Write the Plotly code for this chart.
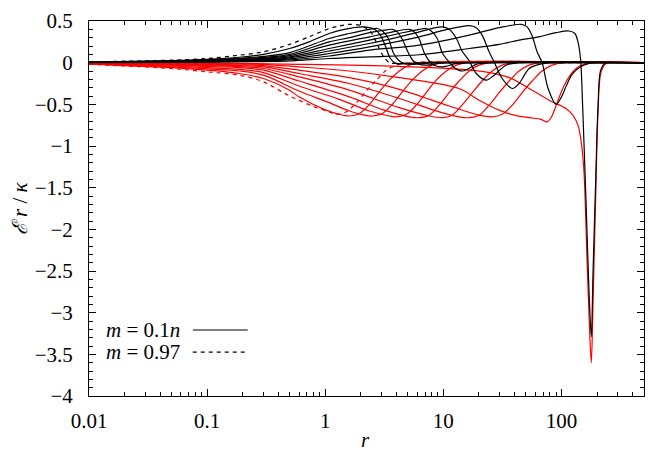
import plotly.graph_objects as go

# --- data: r and E*r/kappa for each curve ---
# black curves, m = 0.1n (n = 1..9) and m = 0.97 (dashed)
black_r_n1 = [0.01, 0.05, 0.1, 0.3, 0.5, 1.08, 2.37, 6.26, 16.6, 29.7, 43.8, 64.7, 90.2, 116, 130, 138, 145,
              151, 162, 171, 179, 185, 195, 204, 215, 237, 278, 500]
black_v_n1 = [0.001, 0.003, 0.006, 0.013, 0.02, 0.05, 0.07, 0.095, 0.17, 0.22, 0.27, 0.31, 0.36, 0.38, 0.35, 0.25,
              0.05, -0.5, -1.73, -2.73, -3.29, -2.53, -1.41, -0.53, -0.09, 0, 0, 0]

black_r_n2 = [0.01, 0.05, 0.1, 0.3, 0.5, 1.08, 2.37, 6.26, 16.6, 29.7, 45.6, 51.2, 56.5, 62.2, 68.6, 77.1, 90.2,
              101, 109, 123, 141, 171, 208, 500]
black_v_n2 = [0.002, 0.005, 0.01, 0.022, 0.034, 0.08, 0.15, 0.21, 0.33, 0.42, 0.46, 0.43, 0.32, 0.13, 0.0, -0.31,
              -0.50, -0.40, -0.29, -0.14, -0.06, -0.01, 0, 0]

black_r_n3 = [0.01, 0.05, 0.1, 0.3, 0.5, 1.08, 2.37, 6.26, 10.2, 16.6, 19.0, 21.3, 24.4, 26.9, 31.5, 38.3, 43.8,
              53.3, 64.7, 86.7, 500]
black_v_n3 = [0.002, 0.007, 0.013, 0.03, 0.045, 0.11, 0.19, 0.31, 0.39, 0.445, 0.42, 0.33, 0.13, 0.01, -0.19,
              -0.31, -0.25, -0.07, -0.02, 0, 0]

black_r_n4 = [0.01, 0.05, 0.1, 0.3, 0.5, 1.08, 2.37, 4.24, 6.26, 9.78, 11.2, 12.9, 14.4, 16.6, 19.0, 23.1, 26.9,
              34.0, 43.8, 500]
black_v_n4 = [0.003, 0.009, 0.017, 0.037, 0.058, 0.14, 0.23, 0.31, 0.37, 0.43, 0.40, 0.29, 0.14, 0.02, -0.13,
              -0.21, -0.15, -0.03, 0, 0]

black_r_n5 = [0.01, 0.05, 0.1, 0.3, 0.5, 1.08, 2.37, 4.24, 6.26, 7.16, 7.9, 8.88, 9.78, 11.0, 12.4, 14.4, 16.2,
              19.0, 24.9, 500]
black_v_n5 = [0.003, 0.011, 0.02, 0.045, 0.07, 0.17, 0.27, 0.35, 0.40, 0.41, 0.38, 0.29, 0.12, 0.02, -0.06, -0.10,
              -0.075, -0.02, 0, 0]

black_r_n6 = [0.01, 0.05, 0.1, 0.3, 0.5, 1.08, 2.37, 3.49, 5.15, 5.68, 6.26, 6.89, 7.6, 8.37, 9.78, 10.8, 12.6,
              15.9, 500]
black_v_n6 = [0.004, 0.013, 0.023, 0.052, 0.085, 0.21, 0.31, 0.36, 0.40, 0.37, 0.28, 0.12, 0.02, -0.03, -0.05,
              -0.04, -0.012, 0, 0]

black_r_n7 = [0.01, 0.05, 0.1, 0.3, 0.5, 1.08, 1.6, 2.37, 3.16, 3.7, 4.08, 4.49, 5.05, 5.57, 6.14, 7.16, 8.05,
              9.23, 11.4, 500]
black_v_n7 = [0.005, 0.016, 0.028, 0.063, 0.10, 0.25, 0.30, 0.36, 0.39, 0.40, 0.37, 0.28, 0.12, 0.02, -0.018,
              -0.03, -0.024, -0.007, 0, 0]

black_r_n8 = [0.01, 0.05, 0.1, 0.3, 0.5, 1.08, 1.6, 2.37, 2.76, 3.05, 3.42, 3.77, 4.24, 4.76, 5.57, 6.38, 7.31,
              10.0, 500]
black_v_n8 = [0.006, 0.02, 0.033, 0.075, 0.12, 0.29, 0.35, 0.40, 0.41, 0.38, 0.29, 0.12, 0.02, -0.012, -0.02,
              -0.015, -0.005, 0, 0]

black_r_n9 = [0.01, 0.05, 0.1, 0.188, 0.3, 0.5, 0.73, 1.08, 1.45, 2.06, 2.61, 2.93, 3.23, 3.56, 3.92, 4.67, 5.46,
              6.89, 9.23, 500]
black_v_n9 = [0.008, 0.025, 0.04, 0.065, 0.10, 0.17, 0.25, 0.35, 0.40, 0.43, 0.40, 0.33, 0.20, 0.05, -0.005,
              -0.015, -0.01, -0.002, 0, 0]

black_r_m97 = [0.01, 0.05, 0.1, 0.188, 0.3, 0.5, 0.73, 1.08, 1.32, 1.6, 1.95, 2.19, 2.46, 2.76, 3.1, 3.49, 4.0,
               5.15, 6.89, 500]
black_v_m97 = [0.01, 0.03, 0.05, 0.09, 0.13, 0.22, 0.31, 0.41, 0.44, 0.46, 0.45, 0.42, 0.36, 0.22, 0.08, 0.0,
               -0.01, -0.005, 0, 0]

# red curves, same m values
red_r_n1 = [0.01, 0.05, 0.1, 0.6, 1.6, 4.24, 11.2, 22.6, 36.1, 56.5, 78.6, 109, 125, 138, 147, 155, 165, 173,
            179, 185, 195, 204, 216, 238, 278, 500]
red_v_n1 = [-0.002, -0.004, -0.006, -0.02, -0.03, -0.045, -0.07, -0.11, -0.18, -0.33, -0.45, -0.55, -0.63, -0.75,
            -0.95, -1.3, -2.4, -3.2, -3.60, -2.9, -1.6, -0.6, -0.12, -0.01, 0, 0]

red_r_n2 = [0.01, 0.05, 0.1, 0.3, 0.6, 1.6, 4.24, 13.6, 20.1, 29.7, 39.8, 53.3, 67.2, 75.6, 81.7, 88.3, 95.4, 105,
            116, 133, 155, 189, 500]
red_v_n2 = [-0.003, -0.008, -0.012, -0.02, -0.05, -0.10, -0.18, -0.31, -0.45, -0.57, -0.63, -0.66, -0.68, -0.71,
            -0.66, -0.55, -0.42, -0.28, -0.17, -0.07, -0.02, 0, 0]

red_r_n3 = [0.01, 0.05, 0.1, 0.188, 0.3, 0.6, 1.6, 4.24, 11.2, 20.1, 25.9, 31.5, 38.3, 46.5, 56.5, 68.6, 83.4,
            105, 500]
red_v_n3 = [-0.004, -0.013, -0.02, -0.025, -0.035, -0.09, -0.18, -0.32, -0.52, -0.63, -0.65, -0.62, -0.51, -0.36,
            -0.22, -0.10, -0.03, 0, 0]

red_r_n4 = [0.01, 0.05, 0.1, 0.188, 0.3, 0.6, 1.6, 4.24, 9.23, 13.6, 16.6, 20.1, 24.4, 29.7, 36.1, 43.8, 53.3,
            67.2, 500]
red_v_n4 = [-0.006, -0.018, -0.027, -0.035, -0.05, -0.13, -0.25, -0.43, -0.59, -0.65, -0.66, -0.63, -0.51, -0.36,
            -0.22, -0.10, -0.03, 0, 0]

red_r_n5 = [0.01, 0.05, 0.1, 0.188, 0.3, 0.6, 1.6, 4.24, 7.6, 9.78, 11.9, 14.4, 17.6, 21.3, 25.9, 31.5, 39.8, 500]
red_v_n5 = [-0.007, -0.023, -0.035, -0.045, -0.07, -0.17, -0.33, -0.54, -0.64, -0.66, -0.63, -0.51, -0.36, -0.22,
            -0.10, -0.03, 0, 0]

red_r_n6 = [0.01, 0.05, 0.1, 0.188, 0.3, 0.6, 1.6, 3.16, 5.15, 6.26, 7.6, 9.23, 11.2, 13.6, 16.6, 20.1, 25.4, 500]
red_v_n6 = [-0.009, -0.03, -0.045, -0.06, -0.09, -0.22, -0.41, -0.57, -0.65, -0.66, -0.63, -0.51, -0.36, -0.22,
            -0.10, -0.03, 0, 0]

red_r_n7 = [0.01, 0.05, 0.1, 0.188, 0.3, 0.6, 1.32, 2.37, 3.49, 4.0, 4.86, 5.9, 7.16, 8.71, 10.6, 12.9, 16.2, 500]
red_v_n7 = [-0.011, -0.04, -0.06, -0.08, -0.12, -0.28, -0.44, -0.58, -0.64, -0.65, -0.62, -0.51, -0.36, -0.21,
            -0.10, -0.03, 0, 0]

red_r_n8 = [0.01, 0.05, 0.1, 0.188, 0.3, 0.6, 1.08, 1.6, 2.15, 2.51, 3.05, 3.7, 4.49, 5.46, 6.63, 8.05, 10.2, 500]
red_v_n8 = [-0.014, -0.05, -0.075, -0.10, -0.15, -0.34, -0.48, -0.58, -0.63, -0.64, -0.61, -0.50, -0.35, -0.21,
            -0.10, -0.03, 0, 0]

red_r_n9 = [0.01, 0.05, 0.1, 0.188, 0.3, 0.5, 0.6, 0.98, 1.32, 1.6, 1.95, 2.37, 2.87, 3.49, 4.24, 5.15, 6.5, 500]
red_v_n9 = [-0.017, -0.06, -0.09, -0.13, -0.19, -0.33, -0.41, -0.56, -0.62, -0.64, -0.61, -0.50, -0.35, -0.21,
            -0.10, -0.03, 0, 0]

red_r_m97 = [0.01, 0.05, 0.1, 0.188, 0.3, 0.5, 0.81, 1.08, 1.24, 1.51, 1.84, 2.23, 2.71, 3.29, 4.0, 5.05, 500]
red_v_m97 = [-0.02, -0.07, -0.11, -0.15, -0.23, -0.40, -0.53, -0.59, -0.62, -0.59, -0.48, -0.34, -0.21, -0.09,
             -0.03, 0, 0]

x_ticks = [0.01, 0.1, 1, 10, 100]
x_ticktext = ["0.01", "0.1", "1", "10", "100"]
x_minor = [0.02, 0.03, 0.04, 0.05, 0.06, 0.07, 0.08, 0.09,
           0.2, 0.3, 0.4, 0.5, 0.6, 0.7, 0.8, 0.9,
           2, 3, 4, 5, 6, 7, 8, 9,
           20, 30, 40, 50, 60, 70, 80, 90,
           200, 300, 400]
legend_labels = ["<i>m</i> = 0.1<i>n</i>", "<i>m</i> = 0.97"]

FONT = "Liberation Serif"

solid_black = [(black_r_n1, black_v_n1), (black_r_n2, black_v_n2), (black_r_n3, black_v_n3),
               (black_r_n4, black_v_n4), (black_r_n5, black_v_n5), (black_r_n6, black_v_n6),
               (black_r_n7, black_v_n7), (black_r_n8, black_v_n8), (black_r_n9, black_v_n9)]
solid_red = [(red_r_n1, red_v_n1), (red_r_n2, red_v_n2), (red_r_n3, red_v_n3), (red_r_n4, red_v_n4),
             (red_r_n5, red_v_n5), (red_r_n6, red_v_n6), (red_r_n7, red_v_n7), (red_r_n8, red_v_n8),
             (red_r_n9, red_v_n9)]

fig = go.Figure()


def add_curve(r, v, color, dash="solid"):
    fig.add_trace(go.Scatter(
        x=r, y=v, mode="lines",
        line=dict(color=color, width=1.2, dash=dash, shape="spline", smoothing=0.9),
        showlegend=False, hoverinfo="skip"
    ))


# red first, black drawn on top
for r, v in solid_red:
    add_curve(r, v, "#ff0000")
add_curve(red_r_m97, red_v_m97, "#ff0000", dash="4px,4px")
for r, v in solid_black:
    add_curve(r, v, "#000000")
add_curve(black_r_m97, black_v_m97, "#000000", dash="4px,4px")

# legend drawn gnuplot-style: text then line sample
fig.add_annotation(x=0.168, y=0.176, xref="paper", yref="paper", text=legend_labels[0],
                   showarrow=False, xanchor="right", yanchor="middle", font=dict(size=21))
fig.add_annotation(x=0.168, y=0.117, xref="paper", yref="paper", text=legend_labels[1],
                   showarrow=False, xanchor="right", yanchor="middle", font=dict(size=21))
fig.add_shape(type="line", xref="paper", yref="paper", x0=0.187, x1=0.286, y0=0.176, y1=0.176,
              line=dict(color="black", width=1.2))
fig.add_shape(type="line", xref="paper", yref="paper", x0=0.187, x1=0.286, y0=0.117, y1=0.117,
              line=dict(color="black", width=1.2, dash="4px,4px"))

# axis titles
fig.add_annotation(x=0.499, y=-0.117, xref="paper", yref="paper", text="<i>r</i>",
                   showarrow=False, xanchor="center", yanchor="middle", font=dict(size=21))
fig.add_annotation(x=-0.124, y=0.501, xref="paper", yref="paper", text="<i>ℰ r</i> / <i>κ</i>",
                   showarrow=False, textangle=-90, xanchor="center", yanchor="middle",
                   font=dict(size=21))

# page body has an 8px margin, so the figure is a bit smaller than the window
fig.update_layout(
    width=656, height=456,
    margin=dict(l=81, r=20, t=13, b=68),
    paper_bgcolor="white",
    plot_bgcolor="white",
    font=dict(family=FONT, size=21, color="black"),
    xaxis=dict(
        type="log", range=[-2, 2.699],
        tickvals=x_ticks, ticktext=x_ticktext,
        ticks="inside", ticklen=7, tickcolor="black",
        minor=dict(tickvals=x_minor, ticks="inside", ticklen=4, tickcolor="black", showgrid=False),
        showline=True, linecolor="black", linewidth=1, mirror="ticks",
        showgrid=False, zeroline=False, automargin=False,
        ticklabelstandoff=6
    ),
    yaxis=dict(
        range=[-4, 0.5], tick0=0, dtick=0.5,
        ticks="inside", ticklen=7, tickcolor="black",
        minor=dict(dtick=0.1, ticks="inside", ticklen=4, tickcolor="black", showgrid=False),
        showline=True, linecolor="black", linewidth=1, mirror="ticks",
        showgrid=False, zeroline=False, automargin=False,
        ticklabelstandoff=11
    )
)

fig.write_html("out.html")
